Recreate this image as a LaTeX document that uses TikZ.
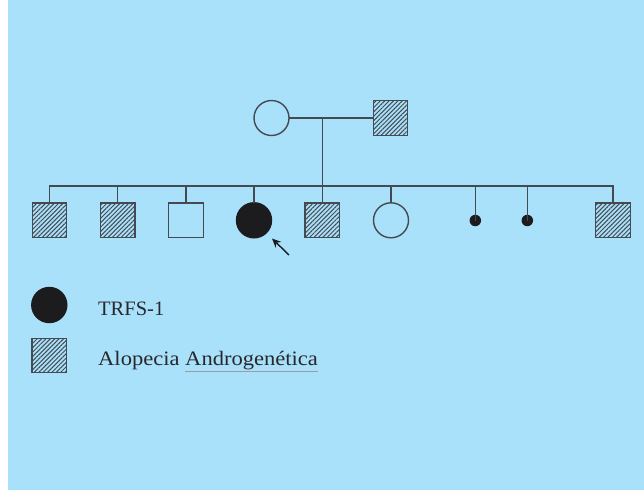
\documentclass[tikz,border=0pt]{standalone}
\usepackage{fontspec}
\setmainfont{Liberation Serif}
\usetikzlibrary{patterns.meta,arrows.meta}
\definecolor{bgblue}{RGB}{169,224,250}
\definecolor{linegray}{RGB}{68,74,80}
\definecolor{txtgray}{RGB}{40,40,44}
\definecolor{fillblack}{RGB}{28,28,30}
\tikzset{
  ind/.style={draw=linegray,line width=1.4pt,inner sep=0pt,outer sep=0pt},
  male/.style={ind,rectangle,minimum size=34.5pt},
  female/.style={ind,circle,minimum size=35pt},
  hatched/.style={pattern={Lines[angle=45,distance=3.1pt,line width=1pt]},pattern color=linegray},
  affected/.style={fill=fillblack,draw=fillblack},
  smalldot/.style={circle,fill=fillblack,inner sep=0pt,minimum size=11.5pt},
  conn/.style={draw=linegray,line width=1.4pt},
  legtext/.style={text=txtgray,inner sep=0pt,font=\fontsize{20.5}{24}\selectfont}
}
\begin{document}
\begin{tikzpicture}[x=1pt,y=-1pt]
\useasboundingbox (0,0) rectangle (644,490);
\fill[bgblue] (8,0) rectangle (644,490);
% parents
\node[female] (m) at (271.5,118) {};
\node[male,hatched] (f) at (390.5,118) {};
\coordinate (mid) at (322.3,118);
\coordinate (sibL) at (49.5,186);
\coordinate (sibR) at (613,186);
% children
\node[male,hatched] (c1) at (49.5,220.3) {};
\node[male,hatched] (c2) at (117.7,220.3) {};
\node[male] (c3) at (186,220.3) {};
\node[female,affected] (c4) at (254,220.3) {};
\node[male,hatched] (c5) at (322.3,220.3) {};
\node[female] (c6) at (391,220.3) {};
\node[smalldot] (c7) at (475.3,220.5) {};
\node[smalldot] (c8) at (527.3,220.5) {};
\node[male,hatched] (c9) at (613,220.3) {};
% connectors
\draw[conn] (m.east) -- (f.west);
\draw[conn] (mid) -- (c5.north);
\draw[conn,line cap=rect] (sibL) -- (sibR);
\draw[conn] (sibL) -- (c1.north);
\draw[conn] (c2.north |- sibL) -- (c2.north);
\draw[conn] (c3.north |- sibL) -- (c3.north);
\draw[conn] (c4.north |- sibL) -- (c4.north);
\draw[conn] (c6.north |- sibL) -- (c6.north);
\draw[conn] (c7.center |- sibL) -- (c7.center);
\draw[conn] (c8.center |- sibL) -- (c8.center);
\draw[conn] (sibR) -- (c9.north);
% proband arrow
\coordinate (arrtail) at (289,255);
\coordinate (arrtip) at (272,238.5);
\draw[draw=fillblack,line width=1.4pt,-{Stealth[length=9pt,width=8pt]}] (arrtail) -- (arrtip);
% legend
\node[female,affected] (l1) at (49.3,305) {};
\node[male,hatched] (l2) at (49.3,355.5) {};
\node[legtext,anchor=base west] (t1) at (98,315) {TRFS-1};
\node[legtext,anchor=base west] (t2) at (98,365) {\scalebox{1.1}[1]{Alopecia {\color{linegray!55}\underline{\color{txtgray}Androgenética}}}};
\end{tikzpicture}
\end{document}
